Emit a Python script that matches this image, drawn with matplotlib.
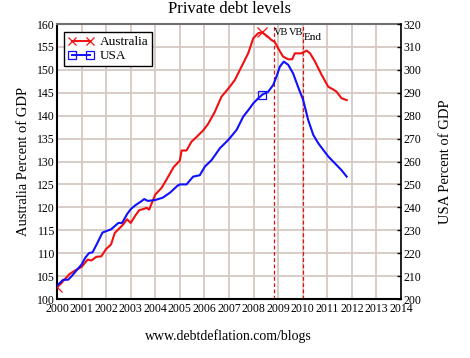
import matplotlib
matplotlib.use("Agg")
import matplotlib.pyplot as plt
from matplotlib.lines import Line2D

plt.rcParams['font.family'] = ['Liberation Serif', 'DejaVu Serif']

# ---- data ----
aus_years = [2000.0, 2000.25, 2000.5, 2000.7, 2001.0, 2001.25, 2001.4, 2001.6, 2001.8,
             2002.0, 2002.2, 2002.35, 2002.5, 2002.7, 2002.85, 2003.0, 2003.2, 2003.35,
             2003.5, 2003.65, 2003.75, 2004.0, 2004.25, 2004.44, 2004.75, 2005.0, 2005.07,
             2005.27, 2005.47, 2005.67, 2005.95, 2006.15, 2006.42, 2006.69, 2007.03,
             2007.24, 2007.51, 2007.78, 2007.99, 2008.19, 2008.35, 2008.59, 2008.73,
             2008.86, 2009.0, 2009.2, 2009.41, 2009.57, 2009.68, 2009.95, 2010.16,
             2010.3, 2010.5, 2010.77, 2011.04, 2011.25, 2011.38, 2011.58, 2011.79]
aus_values = [102.7, 103.9, 105.4, 106.1, 107.0, 108.6, 108.4, 109.2, 109.3,
              110.9, 111.9, 114.4, 115.2, 116.3, 117.4, 116.6, 118.3, 119.4,
              119.6, 119.9, 119.5, 122.8, 124.2, 125.9, 128.8, 130.2, 132.4,
              132.4, 134.3, 135.3, 136.8, 138.2, 140.8, 144.1, 146.3,
              147.8, 150.7, 153.6, 156.9, 158.0, 158.2, 157.2, 156.5,
              156.1, 154.7, 152.9, 152.3, 152.3, 153.6, 153.6, 154.2,
              153.6, 151.8, 148.9, 146.3, 145.7, 145.2, 143.8, 143.4]

usa_years = [2000.0, 2000.25, 2000.45, 2000.6, 2000.85, 2001.0, 2001.15, 2001.3, 2001.45,
             2001.65, 2001.85, 2002.0, 2002.2, 2002.35, 2002.5, 2002.65, 2002.85, 2003.0,
             2003.2, 2003.4, 2003.55, 2003.7, 2004.0, 2004.3, 2004.6, 2004.9, 2005.0,
             2005.27, 2005.54, 2005.81, 2006.02, 2006.29, 2006.63, 2006.97, 2007.31,
             2007.58, 2007.8, 2007.99, 2008.19, 2008.36, 2008.59, 2008.8, 2008.93,
             2009.07, 2009.23, 2009.41, 2009.61, 2009.81, 2010.02, 2010.22, 2010.43,
             2010.63, 2010.84, 2011.04, 2011.31, 2011.58, 2011.79]
usa_values = [205.8, 208.4, 208.4, 210.0, 213.2, 215.0, 218.0, 220.0, 220.4,
              224.6, 229.0, 229.6, 230.4, 231.8, 233.2, 233.2, 237.0, 239.2,
              241.0, 242.4, 243.6, 242.8, 243.2, 244.2, 246.4, 249.4, 250.0,
              250.0, 253.4, 254.0, 257.8, 260.6, 265.8, 269.4, 273.8,
              279.6, 282.6, 285.4, 287.6, 289.2, 290.4, 293.4, 297.0,
              301.4, 303.6, 302.2, 298.4, 292.6, 286.8, 278.2, 271.6,
              268.0, 265.0, 262.2, 259.2, 256.2, 253.4]

aus_marks = [0, 40]
usa_marks = [39]

year_ticks = list(range(2000, 2015))
left_ticks = list(range(100, 161, 5))
right_ticks = list(range(200, 321, 10))
vb_year = 2008.84
vb_end_year = 2010.02

# ---- figure ----
fig = plt.figure(figsize=(4.7, 3.58), dpi=100)
ax = fig.add_axes([57/470, 1-299/358, 344/470, 275/358])
ax2 = ax.twinx()

grid_col = '#d6c8c3'
ax.set_xlim(2000, 2014)
ax.set_ylim(100, 160)
ax.set_xticks(year_ticks)
ax.set_yticks(left_ticks)
ax.grid(True, color=grid_col, linewidth=1.3)
ax.set_axisbelow(True)
ax2.set_ylim(200, 320)
ax2.set_yticks(right_ticks)

ax.plot(aus_years, aus_values, color='#f01010', linewidth=1.5, marker='x',
        markevery=aus_marks, markersize=6.5, markeredgewidth=0.9, zorder=3)
ax2.plot(usa_years, usa_values, color='#1010ff', linewidth=1.5, marker='s',
         markevery=usa_marks, markersize=6, markerfacecolor='none',
         markeredgewidth=0.9, zorder=2)

for yr in (vb_year, vb_end_year):
    ax.axvline(yr, color='#e01010', linewidth=0.9, linestyle=(0, (3, 2)), zorder=2)

ax.text(vb_year - 0.03, 157.6, 'VB', fontsize=7.5, va='baseline', ha='left')
ax.text(vb_end_year - 0.01, 157.6, 'VB', fontsize=7.5, va='baseline', ha='right')
ax.text(vb_end_year + 0.02, 156.6, 'End', fontsize=8, va='baseline', ha='left')

# spines & ticks
for s in ('left', 'bottom'):
    ax.spines[s].set_color('black')
    ax.spines[s].set_linewidth(1.5)
ax.spines['top'].set_color('#707070')
ax.spines['top'].set_linewidth(1.5)
ax.spines['right'].set_visible(False)
for s in ('left', 'bottom', 'top'):
    ax2.spines[s].set_visible(False)
ax2.spines['right'].set_color('black')
ax2.spines['right'].set_linewidth(1.2)

ax.tick_params(axis='x', length=0, pad=3, labelsize=8.5)
ax.tick_params(axis='y', length=0, pad=1.5, labelsize=8.5)
ax2.tick_params(axis='y', direction='in', length=3, width=1, pad=1.5, labelsize=8.5)

ax.set_ylabel('Australia Percent of GDP', fontsize=10.5, labelpad=5)
ax2.set_ylabel('USA Percent of GDP', fontsize=10.5, labelpad=13)
fig.text(229/470, 1-9/358, 'Private debt levels', fontsize=12, ha='center', va='center')
fig.text(228/470, 1-336/358, 'www.debtdeflation.com/blogs', fontsize=10, ha='center', va='center')

handles = [Line2D([], [], color='#f01010', linewidth=1.4, marker='x', markersize=6,
                  markeredgewidth=0.9),
           Line2D([], [], color='#1010ff', linewidth=1.4, marker='s', markersize=6,
                  markerfacecolor='none', markeredgewidth=0.9)]
leg = ax2.legend(handles, ['Australia', 'USA'], loc='upper left',
                 bbox_to_anchor=(7/344, 267/275), borderaxespad=0, fontsize=9.5,
                 numpoints=2, fancybox=False, framealpha=1, edgecolor='black',
                 borderpad=0.3, handlelength=2.0, handletextpad=0.4, labelspacing=0.15)
leg.get_frame().set_linewidth(1.0)

fig.savefig('out.png', dpi=100)
